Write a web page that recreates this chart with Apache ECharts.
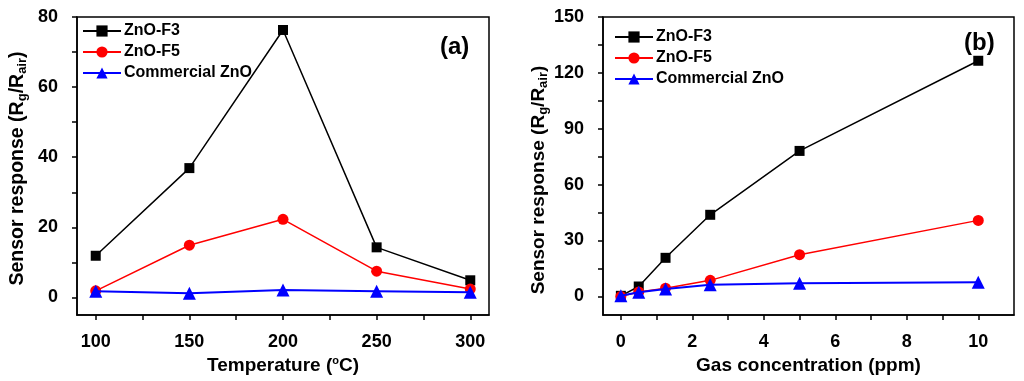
<!DOCTYPE html>
<html>
<head>
<meta charset="utf-8">
<script src="https://cdn.jsdelivr.net/npm/echarts@6/dist/echarts.min.js"></script>
<style>html,body{margin:0;padding:0;background:#fff;}#c{width:1024px;height:381px;}</style>
</head>
<body>
<div id="c"></div>
<script>
// Panel (a): temperature dependence
const temperature = [100, 150, 200, 250, 300];
const tempF3 = [11.9, 36.9, 76.3, 14.3, 4.9];
const tempF5 = [1.9, 14.9, 22.3, 7.5, 2.4];
const tempCommercial = [1.8, 1.2, 2.1, 1.8, 1.5];
const tempTicks = [100, 125, 150, 175, 200, 225, 250, 275, 300];
const tempLabels = [100, 150, 200, 250, 300];
const respTicksA = [0, 10, 20, 30, 40, 50, 60, 70, 80];
const respLabelsA = [0, 20, 40, 60, 80];

// Panel (b): concentration dependence
const concentration = [0, 0.5, 1.25, 2.5, 5, 10];
const concF3 = [0.3, 5.3, 20.7, 43.8, 78.1, 126.5];
const concF5 = [0.0, 2.4, 4.4, 8.6, 22.4, 40.8];
const concCommercial = [0.3, 2.2, 4.0, 6.2, 7.0, 7.6];
const concTicks = [0, 1, 2, 3, 4, 5, 6, 7, 8, 9, 10];
const concLabels = [0, 2, 4, 6, 8, 10];
const respTicksB = [0, 15, 30, 45, 60, 75, 90, 105, 120, 135, 150];
const respLabelsB = [0, 30, 60, 90, 120, 150];

const seriesNames = ['ZnO-F3', 'ZnO-F5', 'Commercial ZnO'];
const colors = ['#000000', '#ff0000', '#0000ff'];
const symbols = ['rect', 'circle', 'triangle'];
const symbolSizes = [10, 11, 13];

const FONT = '"Liberation Sans", Arial, sans-serif';
const chart = echarts.init(document.getElementById('c'));

function zip(xs, ys) { return xs.map((x, i) => [x, ys[i]]); }

function xAxisCfg(grid, min, max, ticks, labels, nameRich) {
  return {
    type: 'value', gridIndex: grid, min: min, max: max,
    axisLine: { show: true, onZero: false, lineStyle: { color: '#000', width: 1.5 } },
    axisTick: { show: true, inside: false, length: 5, customValues: ticks, lineStyle: { color: '#000', width: 1.5 } },
    axisLabel: { customValues: labels, margin: 18, color: '#000', fontFamily: FONT, fontWeight: 'bold', fontSize: 18 },
    splitLine: { show: false },
    name: nameRich, nameLocation: 'middle', nameGap: 32,
    nameTextStyle: {
      color: '#000', fontFamily: FONT, fontWeight: 'bold', fontSize: 19,
      rich: { sup: { fontSize: 11, fontFamily: FONT, fontWeight: 'bold', color: '#000', verticalAlign: 'top', padding: [0, 0, 9, 0] } }
    }
  };
}

function yAxisCfg(grid, min, max, ticks, labels, gap, shiftPad, fs) {
  return {
    type: 'value', gridIndex: grid, min: min, max: max,
    axisLine: { show: true, onZero: false, lineStyle: { color: '#000', width: 1.5 } },
    axisTick: { show: true, inside: false, length: 5, customValues: ticks, lineStyle: { color: '#000', width: 1.5 } },
    axisLabel: { customValues: labels, margin: 19, color: '#000', fontFamily: FONT, fontWeight: 'bold', fontSize: 18 },
    splitLine: { show: false },
    name: 'Sensor response (R{sub|g}/R{sub|air})', nameLocation: 'middle', nameGap: gap,
    nameTextStyle: {
      color: '#000', fontFamily: FONT, fontWeight: 'bold', fontSize: fs,
      padding: [0, shiftPad, 0, 0],
      rich: { sub: { fontSize: 13, fontFamily: FONT, fontWeight: 'bold', color: '#000', padding: [10, 0, 0, 0] } }
    }
  };
}

function makeSeries(gridIdx, xs, datasets) {
  return datasets.map((d, i) => ({
    name: seriesNames[i], type: 'line', xAxisIndex: gridIdx, yAxisIndex: gridIdx,
    data: zip(xs, d), symbol: symbols[i], symbolSize: symbolSizes[i],
    lineStyle: { color: colors[i], width: i === 2 ? 2 : 1.5 },
    itemStyle: { color: colors[i] },
    emphasis: { disabled: true }, animation: false, z: 2 + i
  }));
}

function legendCfg(left, top) {
  return {
    data: seriesNames, orient: 'vertical', left: left, top: top,
    itemWidth: 38, itemHeight: 14, itemGap: 5,
    textStyle: { color: '#000', fontFamily: FONT, fontWeight: 'bold', fontSize: 16, padding: [0, 0, 0, -2] },
    selectedMode: false
  };
}

chart.setOption({
  animation: false,
  backgroundColor: '#fff',
  grid: [
    { left: 77, right: 535, top: 17, bottom: 66, show: true, borderColor: '#000', borderWidth: 1.5 },
    { left: 603, right: 10, top: 17, bottom: 66, show: true, borderColor: '#000', borderWidth: 1.5 }
  ],
  legend: [legendCfg(77, 18), legendCfg(609, 24)],
  xAxis: [
    xAxisCfg(0, 90, 310, tempTicks, tempLabels, 'Temperature ({sup|o}C)'),
    xAxisCfg(1, -0.5, 11, concTicks, concLabels, 'Gas concentration (ppm)')
  ],
  yAxis: [
    yAxisCfg(0, -5, 80, respTicksA, respLabelsA, 48, 5, 19.5),
    yAxisCfg(1, -10, 150, respTicksB, respLabelsB, 53, 28, 19)
  ],
  graphic: [
    { type: 'text', left: 440, top: 35, style: { text: '(a)', font: 'bold 24px ' + FONT, fill: '#000' } },
    { type: 'text', left: 964, top: 31, style: { text: '(b)', font: 'bold 24px ' + FONT, fill: '#000' } }
  ],
  series: [].concat(
    makeSeries(0, temperature, [tempF3, tempF5, tempCommercial]),
    makeSeries(1, concentration, [concF3, concF5, concCommercial])
  )
});
</script>
</body>
</html>
